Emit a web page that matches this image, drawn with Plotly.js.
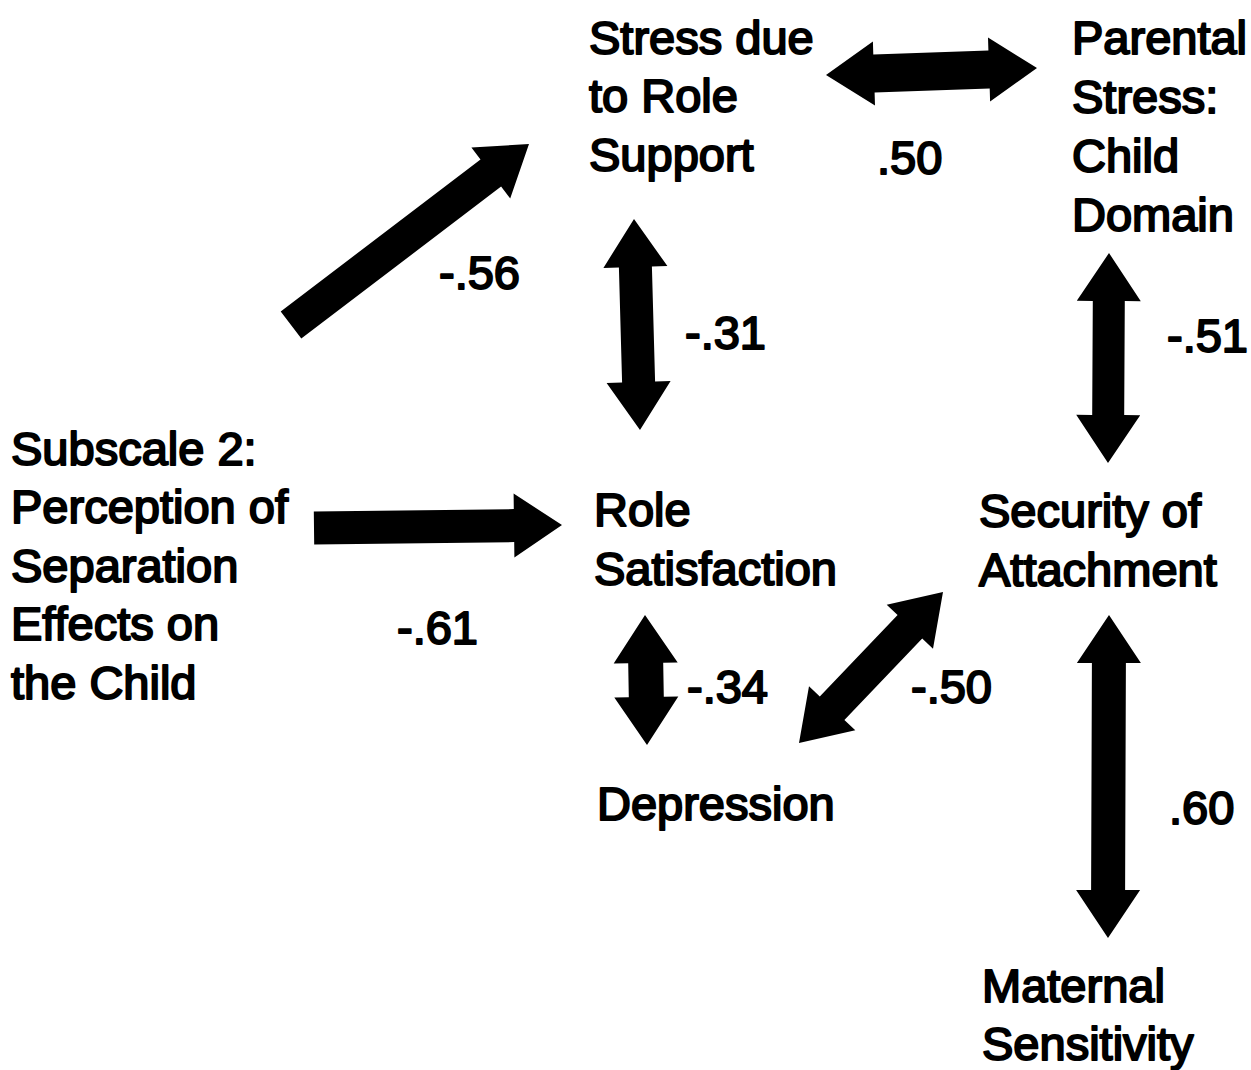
<!DOCTYPE html>
<html>
<head>
<meta charset="utf-8">
<script src="https://cdn.plot.ly/plotly-3.0.1.min.js"></script>
<style>
html,body{margin:0;padding:0;background:#fff;}
#chart{width:1251px;height:1070px;}
#chart .annotation-text{stroke:#000;stroke-width:2px;stroke-linejoin:round;}
</style>
</head>
<body>
<div id="chart"></div>
<script>
// ---------- DATA ----------
const nodeNames = ["Stress due\nto Role\nSupport", "Parental\nStress:\nChild\nDomain",
  "Subscale 2:\nPerception of\nSeparation\nEffects on\nthe Child", "Role\nSatisfaction",
  "Security of\nAttachment", "Depression", "Maternal\nSensitivity"];
const pathFrom = [0, 2, 0, 1, 2, 3, 5, 4];
const pathTo   = [1, 0, 3, 4, 3, 5, 4, 6];
const coefficients = [0.50, -0.56, -0.31, -0.51, -0.61, -0.34, -0.50, 0.60];
const doubleHeaded = [true, false, true, true, false, true, true, true];

// ---------- LAYOUT (positions in pixel-like axis units) ----------
const nodePos = [ // left x, first-line y, line step
  [588, 37, 58.5], [1071, 37, 59.3], [10, 448, 58.5], [593, 509, 59],
  [978, 510, 59], [596, 803, 59], [981, 985, 58]
];
const arrowGeom = [ // start, end, shaft width
  [[826, 75], [1037, 68], 38],
  [[291, 325], [529, 144], 34],
  [[634, 219], [640, 430], 33],
  [[1109, 253], [1108, 463], 32],
  [[314, 528], [562, 525], 33],
  [[645, 615], [647, 745], 35],
  [[799, 743], [943, 592], 34],
  [[1109, 615], [1108, 938], 34]
];
const labelPos = [[876, 157], [438, 272], [684, 332], [1166, 335], [396, 627], [686, 686], [910, 686], [1168, 807]];
const HEAD_LEN = 48, HEAD_HALF = 32;
const FONT = {family: "Liberation Sans, Arial, Helvetica, sans-serif", size: 47, color: "#000"};

function fmt(v) { return (v < 0 ? "-" : "") + Math.abs(v).toFixed(2).replace(/^0/, ""); }

function arrowPath(p0, p1, sw, dbl) {
  const dx = p1[0] - p0[0], dy = p1[1] - p0[1];
  const L = Math.hypot(dx, dy), ux = dx / L, uy = dy / L, nx = -uy, ny = ux;
  const s = sw / 2;
  const pt = (b, k, m) => [b[0] + ux * k + nx * m, b[1] + uy * k + ny * m];
  const pts = [];
  pts.push(p1);
  pts.push(pt(p1, -HEAD_LEN, HEAD_HALF));
  pts.push(pt(p1, -HEAD_LEN, s));
  if (dbl) {
    pts.push(pt(p0, HEAD_LEN, s));
    pts.push(pt(p0, HEAD_LEN, HEAD_HALF));
    pts.push(p0);
    pts.push(pt(p0, HEAD_LEN, -HEAD_HALF));
    pts.push(pt(p0, HEAD_LEN, -s));
  } else {
    pts.push(pt(p0, 0, s));
    pts.push(pt(p0, 0, -s));
  }
  pts.push(pt(p1, -HEAD_LEN, -s));
  pts.push(pt(p1, -HEAD_LEN, -HEAD_HALF));
  return "M " + pts.map(p => p[0].toFixed(1) + "," + p[1].toFixed(1)).join(" L ") + " Z";
}

const shapes = pathFrom.map((f, i) => ({
  type: "path", xref: "x", yref: "y",
  path: arrowPath(arrowGeom[i][0], arrowGeom[i][1], arrowGeom[i][2], doubleHeaded[i]),
  fillcolor: "#000", line: {width: 0}
}));

const annotations = [];
nodeNames.forEach((name, i) => {
  name.split("\n").forEach((line, j) => {
    annotations.push({
      x: nodePos[i][0], y: nodePos[i][1] + j * nodePos[i][2], xref: "x", yref: "y",
      text: line, showarrow: false, xanchor: "left", yanchor: "middle", borderpad: 0, font: FONT
    });
  });
});
coefficients.forEach((c, i) => {
  annotations.push({
    x: labelPos[i][0], y: labelPos[i][1], xref: "x", yref: "y",
    text: fmt(c), showarrow: false, xanchor: "left", yanchor: "middle", borderpad: 0, font: FONT
  });
});

const layout = {
  width: 1251, height: 1070,
  margin: {l: 0, r: 0, t: 0, b: 0, pad: 0},
  paper_bgcolor: "#fff", plot_bgcolor: "#fff",
  xaxis: {range: [0, 1251], visible: false, fixedrange: true},
  yaxis: {range: [1070, 0], visible: false, fixedrange: true},
  shapes: shapes, annotations: annotations, showlegend: false
};
Plotly.newPlot("chart", [], layout, {staticPlot: true, displayModeBar: false});
</script>
</body>
</html>
